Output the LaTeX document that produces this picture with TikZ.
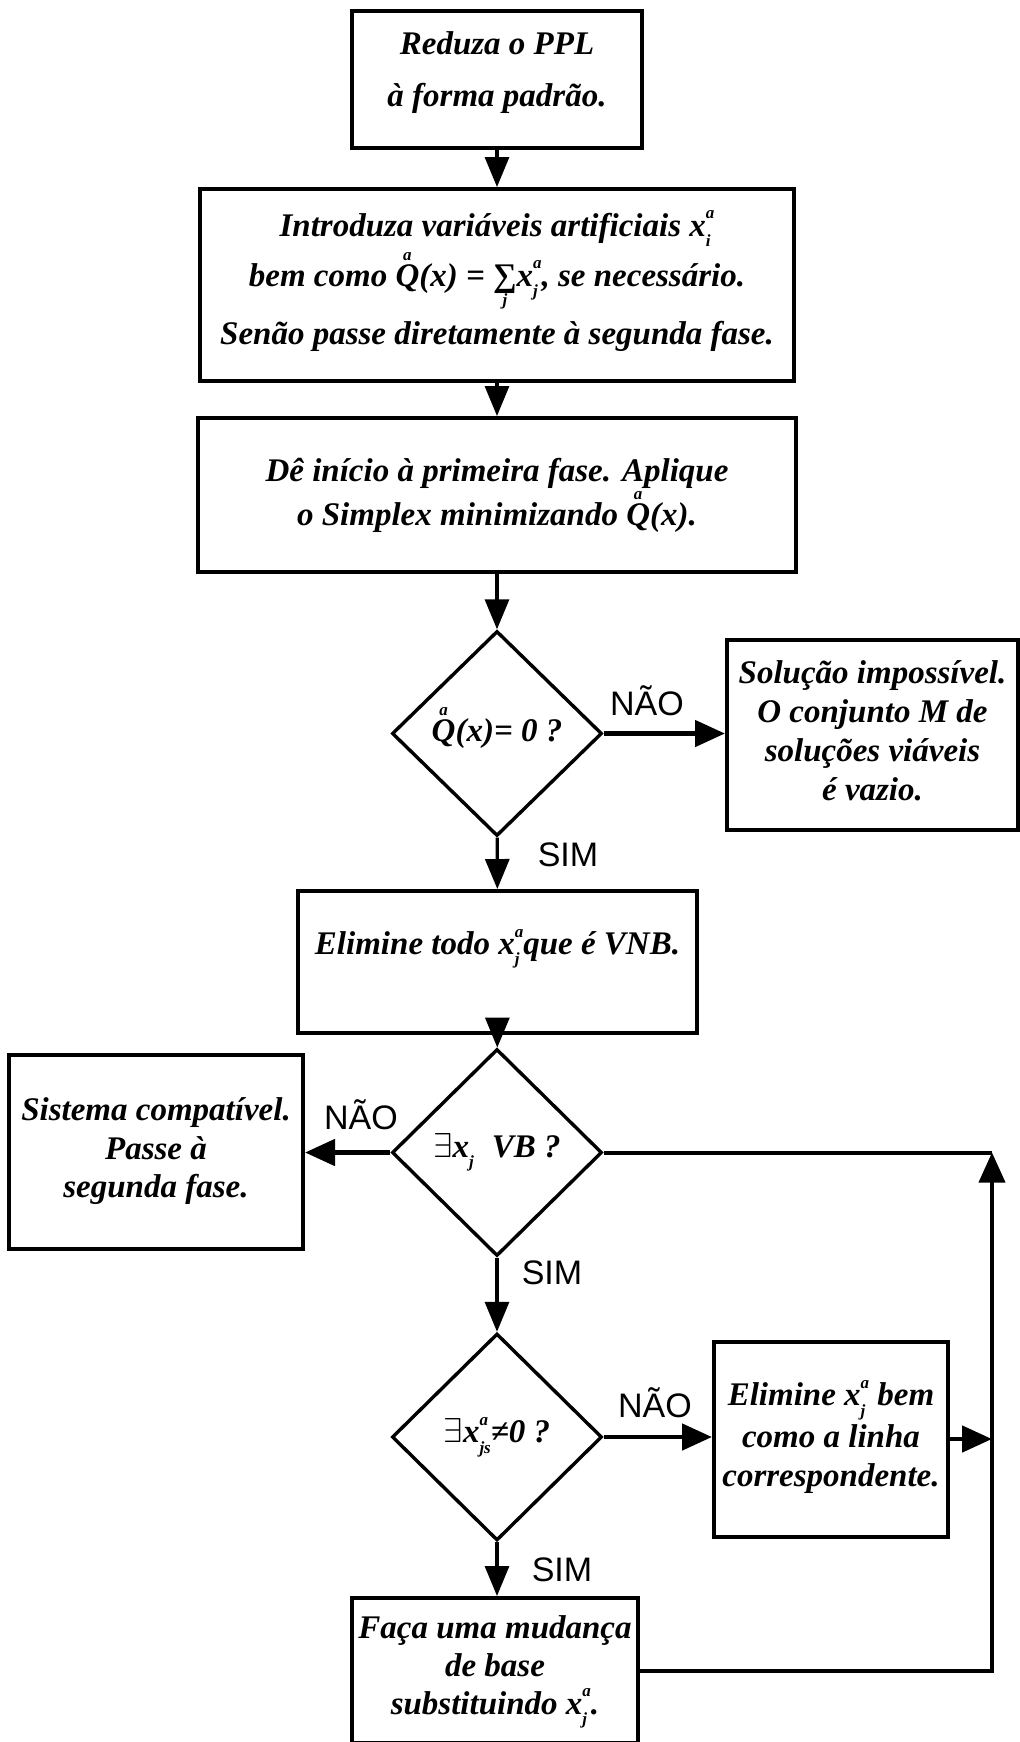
\documentclass[tikz,border=0pt]{standalone}
\usepackage{fontspec}
\setmainfont{Liberation Serif}
\newfontfamily\labelfont{Liberation Sans}
\usetikzlibrary{arrows.meta,shapes.geometric}

% text of the steps: bold italic serif
\newcommand\stepfont{\fontsize{16.5}{20}\selectfont\bfseries\itshape}
\newcommand\smallidx{\fontsize{8.5}{9}\selectfont}
% x with a superscript and a subscript stacked on top of each other
\newcommand\xsa[2]{x\ooalign{\raisebox{0.52em}{\smallidx #1}\cr\raisebox{-0.32em}{\smallidx #2}\cr}}
% Q with an "a" set above it
\newcommand\Qa{\ooalign{Q\cr\hidewidth\raisebox{0.78em}{\smallidx a}\hidewidth\cr}}
% summation sign with the index j below
\newcommand\sumj{\ooalign{∑\cr\hidewidth\raisebox{-0.6em}{\smallidx j}\hidewidth\cr}}
% centred lines of a box; #1 lifts them, #2 is the line distance
\newcommand\boxtext[3]{\raisebox{\dimexpr#1-4pt\relax}[0pt][0pt]{\fontsize{16.5}{#2}\selectfont\begin{tabular}{@{}c@{}}#3\end{tabular}}}

\begin{document}
\begin{tikzpicture}[x=0.5pt,y=-0.5pt,
  stepbox/.style={draw, line width=2pt, inner sep=0pt, font=\stepfont},
  decision/.style={draw, diamond, line width=1.7pt, inner sep=0pt, font=\stepfont},
  flow/.style={line width=1.6pt, -{Triangle[length=15pt,width=12pt]}},
  flowh/.style={line width=2.4pt, -{Triangle[length=15pt,width=13pt]}},
  loopline/.style={line width=2pt},
  answer/.style={font=\labelfont\fontsize{17}{20}\selectfont, inner sep=0pt}]

\useasboundingbox (0,0) rectangle (1020,1742);

% main column
\node[stepbox, minimum width=145pt, minimum height=68.5pt] (b1) at (497,79.5)
  {\boxtext{4.5pt}{26pt}{Reduza o PPL\\à forma padrão.}};
\node[stepbox, minimum width=297pt, minimum height=96pt] (b2) at (497,285)
  {\boxtext{2pt}{25pt}{Introduza variáveis artificiais \xsa{a}{i}\\
   bem como \Qa(x) = \sumj\xsa{a}{j}, se necessário.\\
   Senão passe diretamente à segunda fase.}};
\node[stepbox, minimum width=299pt, minimum height=77pt] (b3) at (497,495)
  {\boxtext{0pt}{22pt}{Dê início à primeira fase. Aplique\\o Simplex minimizando \Qa(x).}};
\node[decision, minimum width=105pt, minimum height=102.5pt] (d1) at (497,733.5)
  {\Qa(x)= 0 ?};
\node[stepbox, minimum width=145.5pt, minimum height=95pt] (sol) at (872.5,735)
  {\boxtext{0pt}{19.5pt}{Solução impossível.\\O conjunto M de\\soluções viáveis\\é vazio.}};
\node[stepbox, minimum width=199.5pt, minimum height=71pt] (b4) at (497.5,962)
  {\boxtext{7pt}{20pt}{Elimine todo \xsa{a}{j}que é VNB.}};
\node[decision, minimum width=105pt, minimum height=103.5pt] (d2) at (497,1152.5)
  {$\exists$x\raisebox{-0.32em}{\smallidx j}\hspace{0.3em} VB ?};
\node[stepbox, minimum width=147pt, minimum height=97pt] (sis) at (156,1152)
  {\boxtext{0pt}{19.3pt}{Sistema compatível.\\Passe à\\segunda fase.}};
\node[decision, minimum width=105pt, minimum height=103.5pt] (d3) at (497,1437)
  {$\exists$\xsa{a}{js}≠0 ?};
\node[stepbox, minimum width=117pt, minimum height=97.5pt] (elb) at (831,1439)
  {\boxtext{0pt}{19.5pt}{Elimine \xsa{a}{j} bem\\como a linha\\correspondente.}};
\node[stepbox, minimum width=143pt, minimum height=72.5pt] (faca) at (495,1670.5)
  {\boxtext{0pt}{19pt}{Faça uma mudança\\de base\\substituindo \xsa{a}{j}.}};

% answers on the branches
\node[answer] (n1) at (647,701) {NÃO};
\node[answer] (s1) at (568,855) {SIM};
\node[answer] (n2) at (361,1115) {NÃO};
\node[answer] (s2) at (552,1273) {SIM};
\node[answer] (n3) at (655,1403) {NÃO};
\node[answer] (s3) at (562,1570) {SIM};

% connectors
\draw[flow] (b1) -- (b2);
\draw[flow] (b2) -- (b3);
\draw[flow] (b3) -- (d1);
\draw[flowh] (d1.east) -- (sol.west |- d1.east);
\draw[flow] (d1) -- (b4);
\draw[flow] (b4) -- (d2);
\draw[flowh] (d2.west) -- (sis.east |- d2.west);
\draw[flow] (d2) -- (d3);
\draw[flowh] (d3.east) -- (elb.west |- d3.east);
\draw[flow] (d3) -- (faca.north -| d3.south);

% return loop on the right
\coordinate (jr) at (992,1152.5);
\coordinate (er) at (992,1439);
\coordinate (fr) at (992,1670.5);
\draw[loopline] (d2.east) -- (jr);
\draw[flowh] (elb.east) -- (er);
\draw[loopline, -{Triangle[length=15pt,width=13pt]}] (faca.east) -- (fr) -- (jr);
\end{tikzpicture}
\end{document}
